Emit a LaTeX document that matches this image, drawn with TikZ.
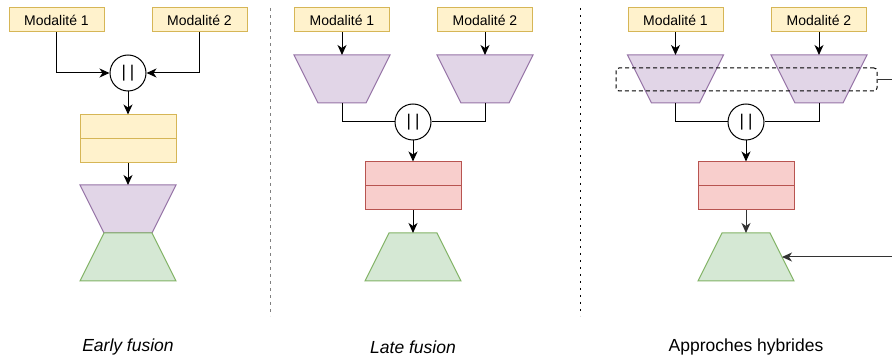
\documentclass[tikz,border=0pt]{standalone}
\usepackage{fontspec}
\setmainfont{Liberation Sans}
\usetikzlibrary{arrows.meta,shapes.geometric}

\definecolor{ylwfill}{HTML}{FFF2CC}
\definecolor{ylwline}{HTML}{D6B656}
\definecolor{prpfill}{HTML}{E1D5E7}
\definecolor{prpline}{HTML}{9673A6}
\definecolor{redfill}{HTML}{F8CECC}
\definecolor{redline}{HTML}{B85450}
\definecolor{grnfill}{HTML}{D5E8D4}
\definecolor{grnline}{HTML}{82B366}
\definecolor{edgegray}{HTML}{333333}

\tikzset{
  modal/.style={rectangle,draw=ylwline,fill=ylwfill,line width=1pt,
    minimum width=95pt,minimum height=24pt,inner sep=0pt,
    font=\fontsize{14}{16}\selectfont},
  concat/.style={circle,draw,fill=white,line width=1pt,minimum size=36pt,inner sep=0pt,
    font=\fontsize{17}{19}\selectfont},
  layers/.style 2 args={rectangle,draw=#2,fill=#1,line width=1pt,
    minimum width=96pt,minimum height=48pt,inner sep=0pt,
    path picture={\draw[#2,line width=1pt] (path picture bounding box.west) -- (path picture bounding box.east);}},
  trap/.style 2 args={trapezium,draw=#2,fill=#1,line width=1pt,
    trapezium angle=63.435,trapezium stretches=false,
    inner xsep=24pt,inner ysep=24pt,outer sep=0pt},
  encoder/.style={trap={prpfill}{prpline},shape border rotate=180},
  decoder/.style={trap={grnfill}{grnline}},
  caption/.style={font=\fontsize{17.5}{20}\selectfont},
  link/.style={line width=1pt,-{Stealth[length=10pt,width=9pt,inset=3pt]}}
}

\begin{document}
\begin{tikzpicture}
[x=1pt,y=-1pt]
\useasboundingbox (0,0) rectangle (892,358);
% early fusion
\node[modal] (m11) at (56.5,20) {Modalité 1};
\node[modal] (m12) at (199.5,20) {Modalité 2};
\node[concat] (cat1) at (128,73) {|\hspace{4pt}|};
\node[layers={ylwfill}{ylwline}] (fus1) at (128,139) {};
\node[encoder] (enc1) at (128,209) {};
\node[decoder] (dec1) at (128,257) {};
\draw[link] (m11.south) |- (cat1);
\draw[link] (m12.south) |- (cat1);
\draw[link] (cat1) -- (fus1);
\draw[link] (fus1) -- (enc1.north);
\node[caption] (cap1) at (128,347) {\itshape Early fusion};
\draw[gray,line width=1pt,dash pattern=on 3pt off 4pt] (270.5,8) -- (270.5,316);
% late fusion
\node[modal] (m21) at (342,20) {Modalité 1};
\node[modal] (m22) at (485,20) {Modalité 2};
\node[encoder] (enc21) at (342,79) {};
\node[encoder] (enc22) at (485,79) {};
\node[concat] (cat2) at (413,122) {|\hspace{4pt}|};
\node[layers={redfill}{redline}] (fus2) at (413,186) {};
\node[decoder] (dec2) at (413,257) {};
\draw[link] (m21) -- (enc21.north);
\draw[link] (m22) -- (enc22.north);
\draw[line width=1pt] (enc21.south) |- (cat2);
\draw[line width=1pt] (enc22.south) |- (cat2);
\draw[link] (cat2) -- (fus2);
\draw[link] (fus2) -- (dec2.north);
\node[caption] (cap2) at (413,347) {\itshape Late fusion};
\draw[black,line width=1pt,dash pattern=on 2pt off 5pt] (580.5,8) -- (580.5,316);
% approches hybrides
\node[modal] (m31) at (675.5,20) {Modalité 1};
\node[modal] (m32) at (819,20) {Modalité 2};
\node[encoder] (enc31) at (675.5,79) {};
\node[encoder] (enc32) at (819,79) {};
\node[rectangle,draw,rounded corners=3pt,line width=1pt,dash pattern=on 4pt off 3pt,
  minimum width=261pt,minimum height=23pt] (shared) at (746.5,79.5) {};
\node[concat] (cat3) at (746,122) {|\hspace{4pt}|};
\node[layers={redfill}{redline}] (fus3) at (746,186) {};
\node[decoder] (dec3) at (746,257) {};
\draw[link] (m31) -- (enc31.north);
\draw[link] (m32) -- (enc32.north);
\draw[line width=1pt] (enc31.south) |- (cat3);
\draw[line width=1pt] (enc32.south) |- (cat3);
\draw[link] (cat3) -- (fus3);
\draw[link,edgegray] (fus3) -- (dec3.north);
\draw[link,edgegray] (shared.east) -- ++(30,0) |- (dec3.east);
\node[caption] (cap3) at (746,347) {Approches hybrides};
\end{tikzpicture}
\end{document}
